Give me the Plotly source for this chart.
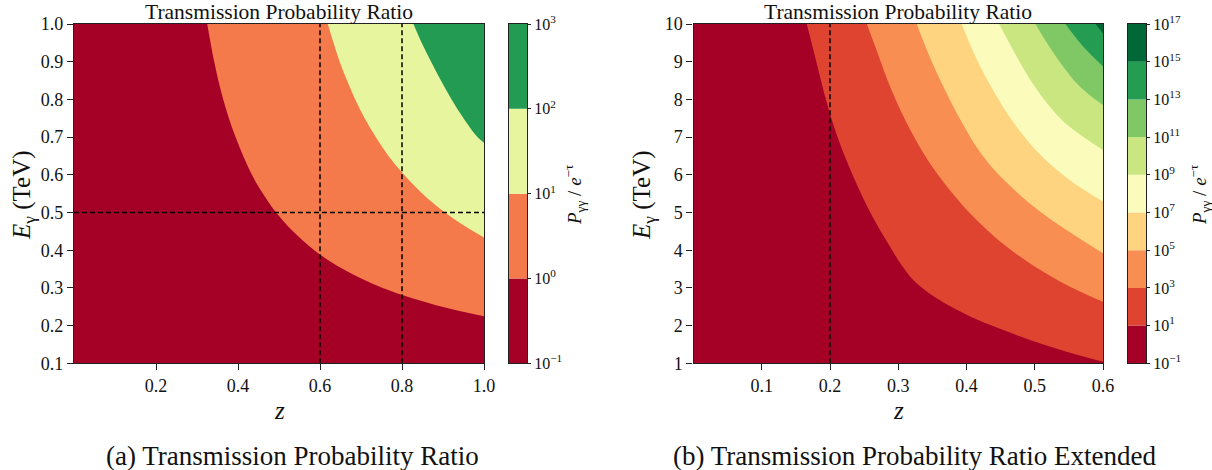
import plotly.graph_objects as go

W, H = 1212, 470
FONT = "Liberation Serif"

# ---------------- Panel (a) data ----------------
a_z_range = [0.0, 1.0]
a_E_range = [0.1, 1.0]
a_xticks = [0.2, 0.4, 0.6, 0.8, 1.0]
a_yticks = [0.1, 0.2, 0.3, 0.4, 0.5, 0.6, 0.7, 0.8, 0.9, 1.0]
a_level_exp = [-1, 0, 1, 2, 3]
a_colors = ["#a50026", "#f47a4b", "#e8f59f", "#239b52"]
# contour boundaries (z, E): 10^0, 10^1, 10^2
a_b1_z = [0.325, 0.342, 0.364, 0.394, 0.434, 0.461, 0.493, 0.534, 0.586, 0.656, 0.753, 0.898, 1.000]
a_b1_E = [1.000, 0.900, 0.800, 0.700, 0.600, 0.550, 0.500, 0.450, 0.400, 0.350, 0.300, 0.250, 0.225]
a_b2_z = [0.619, 0.633, 0.648, 0.666, 0.686, 0.709, 0.736, 0.767, 0.805, 0.850, 0.905, 0.949, 1.000]
a_b2_E = [1.000, 0.950, 0.900, 0.850, 0.800, 0.750, 0.700, 0.650, 0.600, 0.550, 0.500, 0.467, 0.434]
a_b3_z = [0.828, 0.848, 0.871, 0.895, 0.921, 0.950, 0.984, 1.000]
a_b3_E = [1.000, 0.950, 0.900, 0.850, 0.800, 0.750, 0.700, 0.685]
a_vlines = [0.6, 0.8]
a_hlines = [0.5]

# ---------------- Panel (b) data ----------------
b_z_range = [0.0, 0.6]
b_E_range = [1.0, 10.0]
b_xticks = [0.1, 0.2, 0.3, 0.4, 0.5, 0.6]
b_yticks = [1, 2, 3, 4, 5, 6, 7, 8, 9, 10]
b_level_exp = [-1, 1, 3, 5, 7, 9, 11, 13, 15, 17]
b_colors = ["#a50026", "#de4430", "#f98e52", "#fed480", "#fbfbbb",
            "#c9e681", "#80c866", "#249c52", "#006837"]
b_b1_z = [0.166, 0.180, 0.194, 0.211, 0.233, 0.259, 0.288, 0.305, 0.322, 0.350, 0.396, 0.437, 0.493, 0.548, 0.600]
b_b1_E = [10.0, 9.00, 8.00, 7.00, 6.00, 5.00, 4.09, 3.60, 3.21, 2.80, 2.33, 2.00, 1.62, 1.30, 1.04]
b_b2_z = [0.254, 0.270, 0.288, 0.310, 0.337, 0.364, 0.405, 0.459, 0.533, 0.600]
b_b2_E = [10.0, 9.22, 8.34, 7.46, 6.57, 5.86, 4.98, 4.09, 3.21, 2.63]
b_b3_z = [0.327, 0.344, 0.366, 0.391, 0.421, 0.455, 0.511, 0.600]
b_b3_E = [10.0, 9.22, 8.34, 7.46, 6.57, 5.86, 4.98, 3.92]
b_b4_z = [0.393, 0.411, 0.436, 0.466, 0.506, 0.551, 0.600]
b_b4_E = [10.0, 9.22, 8.34, 7.46, 6.57, 5.86, 5.29]
b_b5_z = [0.448, 0.471, 0.500, 0.540, 0.600]
b_b5_E = [10.0, 9.22, 8.34, 7.45, 6.66]
b_b6_z = [0.501, 0.528, 0.566, 0.600]
b_b6_E = [10.0, 9.22, 8.34, 7.85]
b_b7_z = [0.545, 0.571, 0.600]
b_b7_E = [10.0, 9.40, 8.87]
b_b8_z = [0.589, 0.600]
b_b8_E = [10.0, 9.75]
b_vlines = [0.2]
b_hlines = []

a_bounds = [(a_b1_z, a_b1_E), (a_b2_z, a_b2_E), (a_b3_z, a_b3_E)]
b_bounds = [(b_b1_z, b_b1_E), (b_b2_z, b_b2_E), (b_b3_z, b_b3_E), (b_b4_z, b_b4_E),
            (b_b5_z, b_b5_E), (b_b6_z, b_b6_E), (b_b7_z, b_b7_E), (b_b8_z, b_b8_E)]

# ---------------- geometry (pixels) ----------------
plot_top, plot_bot = 24, 363.3
a_left, a_right = 74, 484
b_left, b_right = 693.5, 1103
a_cb = (509, 527)
b_cb = (1128, 1146)


def px(v):
    return v / W


def py(v):
    return 1 - v / H


fig = go.Figure()


def add_panel(xa, ya, zr, er, bounds, colors, vlines, hlines):
    fig.add_trace(go.Scatter(
        x=[zr[0], zr[1], zr[1], zr[0], zr[0]], y=[er[0], er[0], er[1], er[1], er[0]],
        fill="toself", fillcolor=colors[0], mode="lines", line=dict(width=0),
        hoverinfo="skip", showlegend=False, xaxis=xa, yaxis=ya))
    for (bz, bE), col in zip(bounds, colors[1:]):
        # corner path (top edge -> top-right corner -> right edge), sharp
        fig.add_trace(go.Scatter(
            x=[bz[0], zr[1], zr[1]], y=[bE[0], er[1], bE[-1]], mode="lines",
            line=dict(width=0, color=col), hoverinfo="skip", showlegend=False,
            xaxis=xa, yaxis=ya))
        # smooth contour boundary, filled up to the corner path
        fig.add_trace(go.Scatter(
            x=bz, y=bE, mode="lines", fill="tonexty", fillcolor=col,
            line=dict(width=0, color=col, shape="spline", smoothing=1.0),
            hoverinfo="skip", showlegend=False, xaxis=xa, yaxis=ya))
    for v in vlines:
        fig.add_trace(go.Scatter(
            x=[v, v], y=[er[0], er[1]], mode="lines",
            line=dict(color="black", width=1.5, dash="5px,3px"),
            hoverinfo="skip", showlegend=False, xaxis=xa, yaxis=ya))
    for h in hlines:
        fig.add_trace(go.Scatter(
            x=[zr[0], zr[1]], y=[h, h], mode="lines",
            line=dict(color="black", width=1.5, dash="5px,3px"),
            hoverinfo="skip", showlegend=False, xaxis=xa, yaxis=ya))


add_panel("x", "y", a_z_range, a_E_range, a_bounds, a_colors, a_vlines, a_hlines)
add_panel("x2", "y2", b_z_range, b_E_range, b_bounds, b_colors, b_vlines, b_hlines)


def add_cbar(xa, ya, colors):
    n = len(colors)
    fig.add_trace(go.Bar(
        x=[0] * n, y=[1] * n, base=list(range(n)), width=1,
        marker=dict(color=colors, line=dict(width=0)),
        hoverinfo="skip", showlegend=False, xaxis=xa, yaxis=ya))


add_cbar("x3", "y3", a_colors)
add_cbar("x4", "y4", b_colors)


def exp_label(e):
    s = str(e).replace("-", "\u2212")
    return f"10<sup>{s}</sup>"


tickfont = dict(family=FONT, size=18, color="#111")
axis_common = dict(showline=True, mirror=True, linecolor="#222", linewidth=1.2,
                   ticks="outside", ticklen=6, tickwidth=1.1, tickcolor="#222",
                   showgrid=False, zeroline=False, tickfont=tickfont, automargin=False)
cbx_common = dict(range=[-0.5, 0.5], showticklabels=False, ticks="", showgrid=False,
                  zeroline=False, showline=True, mirror=True, linecolor="#222",
                  linewidth=1.2, automargin=False)
cby_common = dict(side="right", ticks="outside", ticklen=3, tickwidth=1, tickcolor="#222",
                  showgrid=False, zeroline=False, showline=True, mirror=True,
                  linecolor="#222", linewidth=1.2, automargin=False,
                  tickfont=dict(family=FONT, size=16, color="#111"))

fig.update_layout(
    template="none",
    width=W, height=H, margin=dict(l=0, r=0, t=0, b=0, pad=0),
    paper_bgcolor="white", plot_bgcolor="white", barmode="overlay",
    xaxis=dict(domain=[px(a_left), px(a_right)], range=a_z_range, tickvals=a_xticks,
               ticktext=[f"{v:.1f}" for v in a_xticks], anchor="y", **axis_common),
    yaxis=dict(domain=[py(plot_bot), py(plot_top)], range=a_E_range, tickvals=a_yticks,
               ticktext=[f"{v:.1f}" for v in a_yticks], anchor="x", **axis_common),
    xaxis2=dict(domain=[px(b_left), px(b_right)], range=b_z_range, tickvals=b_xticks,
                ticktext=[f"{v:.1f}" for v in b_xticks], anchor="y2", **axis_common),
    yaxis2=dict(domain=[py(plot_bot), py(plot_top)], range=b_E_range, tickvals=b_yticks,
                ticktext=[str(v) for v in b_yticks], anchor="x2", **axis_common),
    xaxis3=dict(domain=[px(a_cb[0]), px(a_cb[1])], anchor="y3", **cbx_common),
    yaxis3=dict(domain=[py(plot_bot), py(plot_top)], range=[0, len(a_colors)], anchor="x3",
                tickvals=list(range(len(a_level_exp))),
                ticktext=[exp_label(e) for e in a_level_exp], **cby_common),
    xaxis4=dict(domain=[px(b_cb[0]), px(b_cb[1])], anchor="y4", **cbx_common),
    yaxis4=dict(domain=[py(plot_bot), py(plot_top)], range=[0, len(b_colors)], anchor="x4",
                tickvals=list(range(len(b_level_exp))),
                ticktext=[exp_label(e) for e in b_level_exp], **cby_common),
)

ann = []


def text(x, y, s, size, angle=0):
    ann.append(dict(x=px(x), y=py(y), xref="paper", yref="paper", text=s,
                    showarrow=False, xanchor="center", yanchor="middle", textangle=angle,
                    font=dict(family=FONT, size=size, color="#111")))


title = "Transmission Probability Ratio"
text((a_left + a_right) / 2, 12, title, 21.5)
text((b_left + b_right) / 2, 12, title, 21.5)
text((a_left + a_right) / 2, 410, "<i>z</i>", 25)
text((b_left + b_right) / 2, 410, "<i>z</i>", 25)
text(23, 195, "<i>E</i><sub>\u03b3</sub> (TeV)", 25, -90)
text(643, 195, "<i>E</i><sub>\u03b3</sub> (TeV)", 25, -90)
cb_label = "<i>P</i><sub>\u03b3\u03b3</sub> / <i>e</i><sup>\u2212\u03c4</sup>"
text(574, 195, cb_label, 19, -90)
text(1199, 195, cb_label, 19, -90)
text(292, 456, "(a) Transmission Probability Ratio", 27)
text(914, 456, "(b) Transmission Probability Ratio Extended", 27)
fig.update_layout(annotations=ann)

fig.write_html("out.html")
